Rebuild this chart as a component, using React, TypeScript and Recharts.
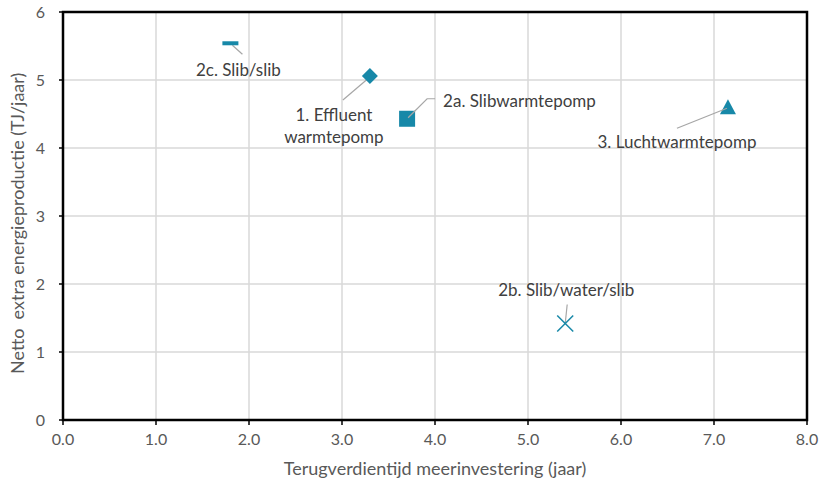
import React from "react";
import {
  ScatterChart,
  Scatter,
  XAxis,
  YAxis,
  CartesianGrid,
  ReferenceArea,
} from "recharts";

// Payback period (years) vs. extra net energy production (TJ/year) per option
const optionNames = [
  "1. Effluent warmtepomp",
  "2a. Slibwarmtepomp",
  "2b. Slib/water/slib",
  "2c. Slib/slib",
  "3. Luchtwarmtepomp",
];
const paybackYears = [3.3, 3.7, 5.4, 1.8, 7.15];
const energyTJ = [5.06, 4.43, 1.42, 5.54, 4.6];

const xTicks = [0, 1, 2, 3, 4, 5, 6, 7, 8];
const yTicks = [0, 1, 2, 3, 4, 5, 6];

const TEAL = "#1788A8";
const LEADER = "#A6A6A6";
const TEXT = "#404040";
const AXIS_TEXT = "#595959";
const FONT = "Lato, 'Open Sans', sans-serif";

const labelText = {
  fill: TEXT,
  fontSize: 17,
  fontFamily: FONT,
};

type ShapeProps = { cx?: number; cy?: number };

// marker + leader line + callout text, all relative to the point
const EffluentShape = ({ cx = 0, cy = 0 }: ShapeProps) => (
  <g>
    <line x1={cx} y1={cy + 1} x2={cx - 27} y2={cy + 24} stroke={LEADER} strokeWidth={1.2} />
    <polygon
      points={`${cx},${cy - 8} ${cx + 8},${cy} ${cx},${cy + 8} ${cx - 8},${cy}`}
      fill={TEAL}
    />
    <text x={cx - 36} y={cy + 45} textAnchor="middle" {...labelText}>
      1. Effluent
    </text>
    <text x={cx - 36} y={cy + 67} textAnchor="middle" {...labelText}>
      warmtepomp
    </text>
  </g>
);

const SlibShape = ({ cx = 0, cy = 0 }: ShapeProps) => (
  <g>
    <rect x={cx - 8} y={cy - 8} width={16} height={16} fill={TEAL} />
    <polyline
      points={`${cx + 1},${cy - 1} ${cx + 20},${cy - 20} ${cx + 28},${cy - 20}`}
      fill="none"
      stroke={LEADER}
      strokeWidth={1.2}
    />
    <text x={cx + 36} y={cy - 12} textAnchor="start" {...labelText}>
      2a. Slibwarmtepomp
    </text>
  </g>
);

const WaterShape = ({ cx = 0, cy = 0 }: ShapeProps) => (
  <g>
    <line x1={cx} y1={cy} x2={cx + 2} y2={cy - 19} stroke={LEADER} strokeWidth={1.2} />
    <line x1={cx - 8} y1={cy - 8} x2={cx + 8} y2={cy + 8} stroke={TEAL} strokeWidth={1.5} />
    <line x1={cx - 8} y1={cy + 8} x2={cx + 8} y2={cy - 8} stroke={TEAL} strokeWidth={1.5} />
    <text x={cx + 1} y={cy - 27} textAnchor="middle" {...labelText}>
      2b. Slib/water/slib
    </text>
  </g>
);

const SlibSlibShape = ({ cx = 0, cy = 0 }: ShapeProps) => (
  <g>
    <line x1={cx + 2} y1={cy + 2} x2={cx + 12} y2={cy + 11} stroke={LEADER} strokeWidth={1.2} />
    <rect x={cx - 8} y={cy - 2} width={16} height={4} fill={TEAL} />
    <text x={cx + 8} y={cy + 33} textAnchor="middle" {...labelText}>
      2c. Slib/slib
    </text>
  </g>
);

const LuchtShape = ({ cx = 0, cy = 0 }: ShapeProps) => (
  <g>
    <polygon
      points={`${cx},${cy - 8} ${cx + 8},${cy + 7} ${cx - 8},${cy + 7}`}
      fill={TEAL}
    />
    <line x1={cx - 1} y1={cy + 1} x2={cx - 51} y2={cy + 21} stroke={LEADER} strokeWidth={1.2} />
    <text x={cx - 51} y={cy + 41} textAnchor="middle" {...labelText}>
      3. Luchtwarmtepomp
    </text>
  </g>
);

const shapes = [EffluentShape, SlibShape, WaterShape, SlibSlibShape, LuchtShape];

const series = optionNames.map((name, i) => ({
  name,
  data: [{ x: paybackYears[i], y: energyTJ[i] }],
  shape: shapes[i],
}));

export default function App() {
  return (
    <div style={{ position: "absolute", left: 0, top: 0, background: "#fff" }}>
      <ScatterChart
        width={819}
        height={484}
        margin={{ top: 12, right: 12, bottom: 0, left: 0 }}
      >
        <CartesianGrid stroke="#D9D9D9" strokeWidth={1.5} />
        <XAxis
          type="number"
          dataKey="x"
          domain={[0, 8]}
          ticks={xTicks}
          interval={0}
          tickFormatter={(v: number) => v.toFixed(1)}
          axisLine={{ stroke: "#000", strokeWidth: 2 }}
          tickLine={{ stroke: "#000", strokeWidth: 1.5 }}
          tickSize={5}
          tickMargin={9}
          tick={{ fill: AXIS_TEXT, fontSize: 16, fontFamily: FONT }}
          height={64}
          label={{
            value: "Terugverdientijd meerinvestering (jaar)",
            position: "insideBottom",
            offset: 9,
            fill: AXIS_TEXT,
            fontSize: 18,
            fontFamily: FONT,
          }}
        />
        <YAxis
          type="number"
          dataKey="y"
          domain={[0, 6]}
          ticks={yTicks}
          interval={0}
          axisLine={{ stroke: "#000", strokeWidth: 2 }}
          tickLine={{ stroke: "#000", strokeWidth: 1.5 }}
          tickSize={4}
          tickMargin={14}
          tick={{ fill: AXIS_TEXT, fontSize: 16, fontFamily: FONT }}
          width={63}
          label={{
            value: "Netto\u00A0 extra energieproductie (TJ/jaar)",
            angle: -90,
            position: "insideLeft",
            offset: 18,
            dy: 158,
            fill: AXIS_TEXT,
            fontSize: 18,
            fontFamily: FONT,
          }}
        />
        <ReferenceArea
          x1={0}
          x2={8}
          y1={0}
          y2={6}
          fill="none"
          stroke="#000"
          strokeWidth={2.5}
          ifOverflow="visible"
        />
        {series.map((s) => (
          <Scatter
            key={s.name}
            name={s.name}
            data={s.data}
            shape={s.shape}
            isAnimationActive={false}
          />
        ))}
      </ScatterChart>
    </div>
  );
}
